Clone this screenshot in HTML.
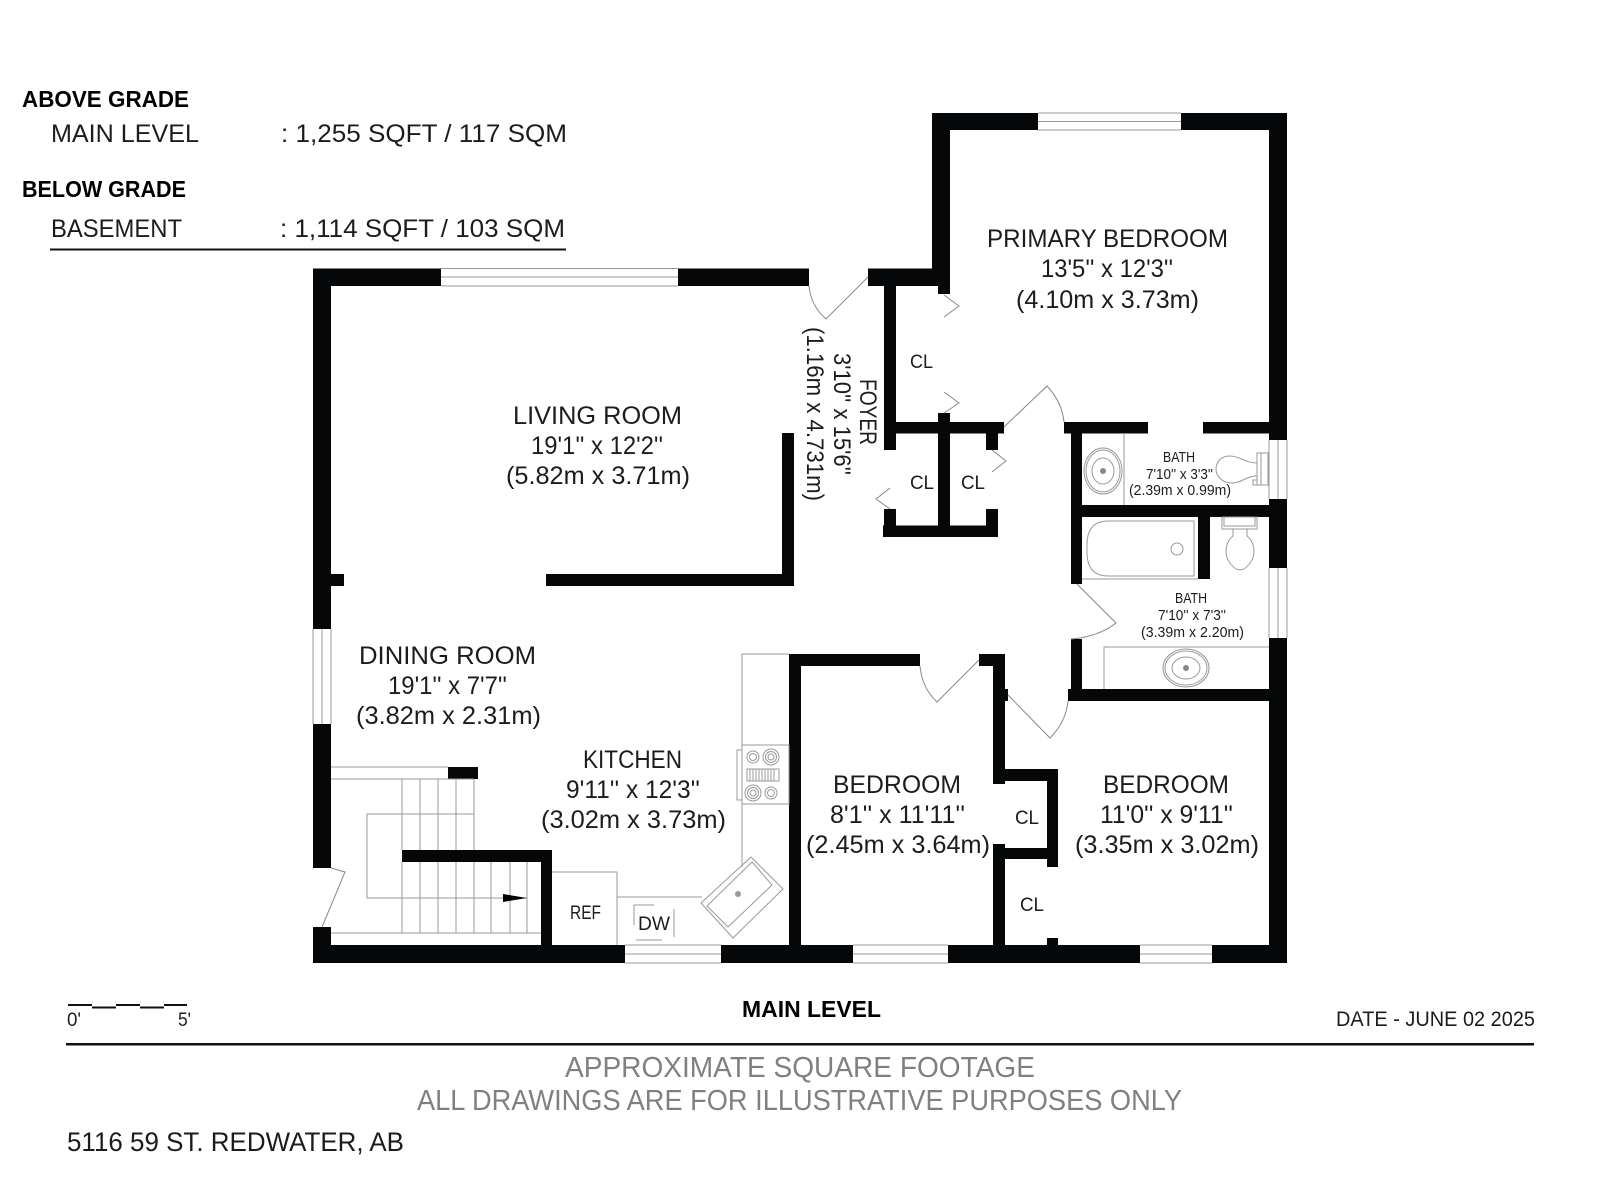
<!DOCTYPE html>
<html><head><meta charset="utf-8"><style>
html,body{margin:0;padding:0;background:#fff}
svg{display:block}
text{font-family:"Liberation Sans",sans-serif;fill:#1c1c1c}
.r{font-size:25px}.c{font-size:19px}.b{font-size:15px}
.h{font-size:23px;font-weight:bold;fill:#000}
.t{font-size:25px}
.g{font-size:29px;fill:#808080}
.w rect{fill:#050708}
.l{fill:none;stroke:#999;stroke-width:1}
.d{fill:none;stroke:#888;stroke-width:1}
</style></head><body>
<svg width="1600" height="1200" viewBox="0 0 1600 1200" xmlns="http://www.w3.org/2000/svg">
<rect width="1600" height="1200" fill="#fff"/>

<!-- header text -->
<text class="h" x="22" y="107" textLength="167" lengthAdjust="spacingAndGlyphs">ABOVE GRADE</text>
<text class="t" x="51" y="142" textLength="148" lengthAdjust="spacingAndGlyphs">MAIN LEVEL</text>
<text class="t" x="281" y="142" textLength="286" lengthAdjust="spacingAndGlyphs">: 1,255 SQFT / 117 SQM</text>
<text class="h" x="22" y="197" textLength="164" lengthAdjust="spacingAndGlyphs">BELOW GRADE</text>
<text class="t" x="51" y="237" textLength="131" lengthAdjust="spacingAndGlyphs">BASEMENT</text>
<text class="t" x="280" y="237" textLength="285" lengthAdjust="spacingAndGlyphs">: 1,114 SQFT / 103 SQM</text>
<rect x="50" y="248.500" width="516" height="2" fill="#111"/>

<!-- windows -->
<g class="l" fill="none">
<path d="M441 268.500H678M441 277H678M441 286H678"/>
<path d="M1038 113H1181M1038 121.500H1181M1038 130H1181"/>
<path d="M625 945H721M625 954H721M625 963H721"/>
<path d="M853 945H948M853 954H948M853 963H948"/>
<path d="M1140 945H1212M1140 954H1212M1140 963H1212"/>
<path d="M313 629V724M322 629V724M331 629V724"/>
<path d="M1269 440V499M1278 440V499M1287 440V499"/>
<path d="M1269 568V638M1278 568V638M1287 568V638"/>
</g>

<!-- walls -->
<g class="w">
<rect x="313" y="268.500" width="128" height="17.500"/>
<rect x="678" y="268.500" width="131" height="17.500"/>
<rect x="313" y="268.500" width="18" height="360.500"/>
<rect x="313" y="724" width="18" height="144"/>
<rect x="313" y="927" width="18" height="36"/>
<rect x="331" y="574" width="13" height="12"/>
<rect x="546" y="574" width="248" height="12"/>
<rect x="782" y="433" width="12" height="153"/>
<!-- primary -->
<rect x="932" y="113" width="106" height="17"/>
<rect x="1181" y="113" width="106" height="17"/>
<rect x="932" y="113" width="18" height="173"/>
<rect x="938" y="280" width="12" height="14"/>
<rect x="868" y="268.500" width="82" height="17.500"/>
<rect x="884" y="286" width="12" height="164"/>
<rect x="884" y="422" width="120" height="11.500"/>
<rect x="938" y="413" width="12" height="124"/>
<rect x="883" y="525.500" width="115" height="11.500"/>
<rect x="884" y="509" width="12" height="18"/>
<rect x="986" y="509" width="12" height="18"/>
<rect x="986" y="430" width="12" height="20"/>
<!-- right wall -->
<rect x="1269" y="113" width="18" height="327"/>
<rect x="1269" y="499" width="18" height="69"/>
<rect x="1269" y="638" width="18" height="325"/>
<!-- baths -->
<rect x="1064" y="422" width="84" height="11.500"/>
<rect x="1203" y="422" width="66" height="11.500"/>
<rect x="1071" y="422" width="11" height="162"/>
<rect x="1071" y="639" width="11" height="55"/>
<rect x="1071" y="505" width="198" height="12"/>
<rect x="1198" y="510" width="12" height="69"/>
<rect x="1068" y="689" width="201" height="12"/>
<!-- bedrooms -->
<rect x="789" y="654" width="131" height="12"/>
<rect x="789" y="654" width="12" height="295"/>
<rect x="979" y="654" width="26" height="12"/>
<rect x="993" y="654" width="12" height="130"/>
<rect x="1005" y="689" width="3" height="12"/>
<rect x="993" y="769" width="65" height="12"/>
<rect x="1047" y="769" width="11" height="98"/>
<rect x="993" y="848" width="60" height="11"/>
<rect x="993" y="844" width="12" height="105"/>
<rect x="1047" y="938" width="11" height="10"/>
<!-- bottom -->
<rect x="313" y="945" width="312" height="18"/>
<rect x="721" y="945" width="132" height="18"/>
<rect x="948" y="945" width="192" height="18"/>
<rect x="1212" y="945" width="75" height="18"/>
<!-- stair walls -->
<rect x="448" y="767" width="30" height="12"/>
<rect x="402" y="850" width="150" height="12"/>
<rect x="541" y="850" width="11" height="98"/>
</g>

<!-- doors -->
<g class="d">
<path d="M868 277L826 319Q811 306 809 286"/>
<path d="M944 295L959 306L944 317"/>
<path d="M944 392L959 403L944 413"/>
<path d="M1004 427L1047 386Q1062 402 1064 422"/>
<path d="M992 450L1006 461L992 472"/>
<path d="M890 488L876 499L890 509"/>
<path d="M1077 584L1116 623Q1098 637 1071 639"/>
<path d="M979 660L937 702Q922 688 920 666"/>
<path d="M1008 695L1050 738Q1066 722 1068 701"/>
<path d="M331 868L345 872L322 927"/>
</g>

<!-- stairs -->
<g class="l">
<path d="M331 767H448M331 779H474"/>
<path d="M402 779V850M420 779V850M438 779V850M456 779V850M474 779V850"/>
<path d="M402 862V933M420 862V933M438 862V933M456 862V933M474 862V933M491 862V933M510 862V933M527 862V933"/>
<path d="M331 933H541"/>
<path d="M474 814H367V898H527"/>
</g>
<path d="M503 894L527 898L503 902Z" fill="#000"/>

<!-- kitchen -->
<g class="l">
<path d="M789 654H742V867"/>
<rect x="742" y="745" width="47" height="59"/>
<rect x="737" y="750" width="5" height="50"/>
<rect x="747" y="769" width="32" height="12"/>
<path d="M750 769V781M753 769V781M756 769V781M759 769V781M762 769V781M765 769V781M768 769V781M771 769V781M774 769V781"/>
<circle cx="753" cy="757" r="6"/><circle cx="753" cy="757" r="3.500"/>
<circle cx="771" cy="757" r="8"/><circle cx="771" cy="757" r="5.500"/><circle cx="771" cy="757" r="3"/>
<circle cx="753" cy="793" r="8"/><circle cx="753" cy="793" r="5.500"/><circle cx="753" cy="793" r="3"/>
<circle cx="771" cy="793" r="6"/><circle cx="771" cy="793" r="3.500"/>
<path d="M552 872H617V945"/>
<path d="M617 897H702"/>
<path d="M634 905H654M634 905V925M636 940H662M674 909V937"/>
<path d="M751 857L783 889L733 938L701 903Z" stroke-linejoin="round"/>
<path d="M752 862L772 885L728 927L707 906Z" stroke-linejoin="round"/>
<circle cx="738" cy="894" r="2.500" fill="#999"/>
</g>

<!-- bath fixtures -->
<g class="l">
<path d="M1124 433V505"/>
<ellipse cx="1103" cy="471" rx="19" ry="23"/>
<ellipse cx="1103" cy="471" rx="17" ry="21"/>
<ellipse cx="1103" cy="471" rx="11" ry="13"/>
<rect x="1257" y="453" width="11" height="32"/>
<rect x="1261" y="453" width="7" height="32"/>
<rect x="1253" y="480" width="4" height="5"/>
<path d="M1257 463C1245 463 1240 456 1230 456C1220 456 1216 463 1216 469C1216 476 1222 483 1232 483C1242 483 1246 476 1257 476"/>
<path d="M1082 579H1198"/>
<path d="M1194 521H1108Q1087 521 1087 545V552Q1087 576 1108 576H1194Z"/>
<circle cx="1177" cy="549" r="6"/>
<rect x="1222" y="517" width="35" height="12"/>
<rect x="1224" y="517" width="31" height="9"/>
<path d="M1233 529V536C1228 540 1226 546 1226 552C1226 560 1234 570 1240 570C1246 570 1254 560 1254 552C1254 546 1252 540 1247 536V529"/>
<path d="M1104 689V647H1269"/>
<ellipse cx="1186" cy="668" rx="23" ry="19"/>
<ellipse cx="1186" cy="668" rx="21" ry="17"/>
<ellipse cx="1186" cy="668" rx="14" ry="11"/>
</g>
<circle cx="1103" cy="471" r="3" fill="#888"/>
<circle cx="1186" cy="668" r="3" fill="#888"/>

<!-- room labels -->
<text class="r" x="513" y="424" textLength="169" lengthAdjust="spacingAndGlyphs">LIVING ROOM</text>
<text class="r" x="531" y="454" textLength="132" lengthAdjust="spacingAndGlyphs">19'1'' x 12'2''</text>
<text class="r" x="506" y="484" textLength="184" lengthAdjust="spacingAndGlyphs">(5.82m x 3.71m)</text>

<text class="r" x="987" y="247" textLength="241" lengthAdjust="spacingAndGlyphs">PRIMARY BEDROOM</text>
<text class="r" x="1041" y="277" textLength="132" lengthAdjust="spacingAndGlyphs">13'5'' x 12'3''</text>
<text class="r" x="1016" y="308" textLength="183" lengthAdjust="spacingAndGlyphs">(4.10m x 3.73m)</text>

<text class="c" x="910" y="368" textLength="23" lengthAdjust="spacingAndGlyphs">CL</text>
<text class="c" x="910" y="489" textLength="24" lengthAdjust="spacingAndGlyphs">CL</text>
<text class="c" x="961" y="489" textLength="24" lengthAdjust="spacingAndGlyphs">CL</text>

<text class="c" style="font-size:24px" transform="translate(860,379) rotate(90)" textLength="66" lengthAdjust="spacingAndGlyphs">FOYER</text>
<text class="c" style="font-size:24px" transform="translate(834,353) rotate(90)" textLength="122" lengthAdjust="spacingAndGlyphs">3'10'' x 15'6''</text>
<text class="c" style="font-size:24px" transform="translate(807,327) rotate(90)" textLength="174" lengthAdjust="spacingAndGlyphs">(1.16m x 4.731m)</text>

<text class="b" x="1163" y="462" textLength="32" lengthAdjust="spacingAndGlyphs">BATH</text>
<text class="b" x="1146" y="479" textLength="67" lengthAdjust="spacingAndGlyphs">7'10'' x 3'3''</text>
<text class="b" x="1129" y="495" textLength="102" lengthAdjust="spacingAndGlyphs">(2.39m x 0.99m)</text>

<text class="b" x="1175" y="603" textLength="32" lengthAdjust="spacingAndGlyphs">BATH</text>
<text class="b" x="1158" y="620" textLength="68" lengthAdjust="spacingAndGlyphs">7'10'' x 7'3''</text>
<text class="b" x="1141" y="637" textLength="103" lengthAdjust="spacingAndGlyphs">(3.39m x 2.20m)</text>

<text class="r" x="359" y="664" textLength="177" lengthAdjust="spacingAndGlyphs">DINING ROOM</text>
<text class="r" x="388" y="694" textLength="119" lengthAdjust="spacingAndGlyphs">19'1'' x 7'7''</text>
<text class="r" x="356" y="724" textLength="185" lengthAdjust="spacingAndGlyphs">(3.82m x 2.31m)</text>

<text class="r" x="583" y="768" textLength="99" lengthAdjust="spacingAndGlyphs">KITCHEN</text>
<text class="r" x="566" y="798" textLength="134" lengthAdjust="spacingAndGlyphs">9'11'' x 12'3''</text>
<text class="r" x="541" y="828" textLength="185" lengthAdjust="spacingAndGlyphs">(3.02m x 3.73m)</text>

<text class="c" x="570" y="919" textLength="31" lengthAdjust="spacingAndGlyphs">REF</text>
<text class="c" x="638" y="930" textLength="32" lengthAdjust="spacingAndGlyphs">DW</text>

<text class="r" x="833" y="793" textLength="128" lengthAdjust="spacingAndGlyphs">BEDROOM</text>
<text class="r" x="830" y="823" textLength="135" lengthAdjust="spacingAndGlyphs">8'1'' x 11'11''</text>
<text class="r" x="806" y="853" textLength="184" lengthAdjust="spacingAndGlyphs">(2.45m x 3.64m)</text>

<text class="c" x="1015" y="824" textLength="24" lengthAdjust="spacingAndGlyphs">CL</text>
<text class="c" x="1020" y="911" textLength="24" lengthAdjust="spacingAndGlyphs">CL</text>

<text class="r" x="1103" y="793" textLength="126" lengthAdjust="spacingAndGlyphs">BEDROOM</text>
<text class="r" x="1100" y="823" textLength="133" lengthAdjust="spacingAndGlyphs">11'0'' x 9'11''</text>
<text class="r" x="1075" y="853" textLength="184" lengthAdjust="spacingAndGlyphs">(3.35m x 3.02m)</text>

<!-- footer -->
<path d="M68 1005H92M92 1007.500H116M116 1005H140M140 1007.500H164M164 1005H187" stroke="#111" stroke-width="2" fill="none"/>
<text class="c" x="67" y="1026" textLength="14" lengthAdjust="spacingAndGlyphs">0'</text>
<text class="c" x="178" y="1026" textLength="13" lengthAdjust="spacingAndGlyphs">5'</text>
<text class="h" x="742" y="1017" textLength="139" lengthAdjust="spacingAndGlyphs">MAIN LEVEL</text>
<text x="1336" y="1026" style="font-size:21px" textLength="199" lengthAdjust="spacingAndGlyphs">DATE - JUNE 02 2025</text>
<rect x="66" y="1043" width="1468" height="2.500" fill="#111"/>
<text class="g" x="565" y="1077" textLength="470" lengthAdjust="spacingAndGlyphs">APPROXIMATE SQUARE FOOTAGE</text>
<text class="g" x="417" y="1110" textLength="765" lengthAdjust="spacingAndGlyphs">ALL DRAWINGS ARE FOR ILLUSTRATIVE PURPOSES ONLY</text>
<text x="67" y="1151" style="font-size:27px" textLength="337" lengthAdjust="spacingAndGlyphs">5116 59 ST. REDWATER, AB</text>
</svg>
</body></html>
